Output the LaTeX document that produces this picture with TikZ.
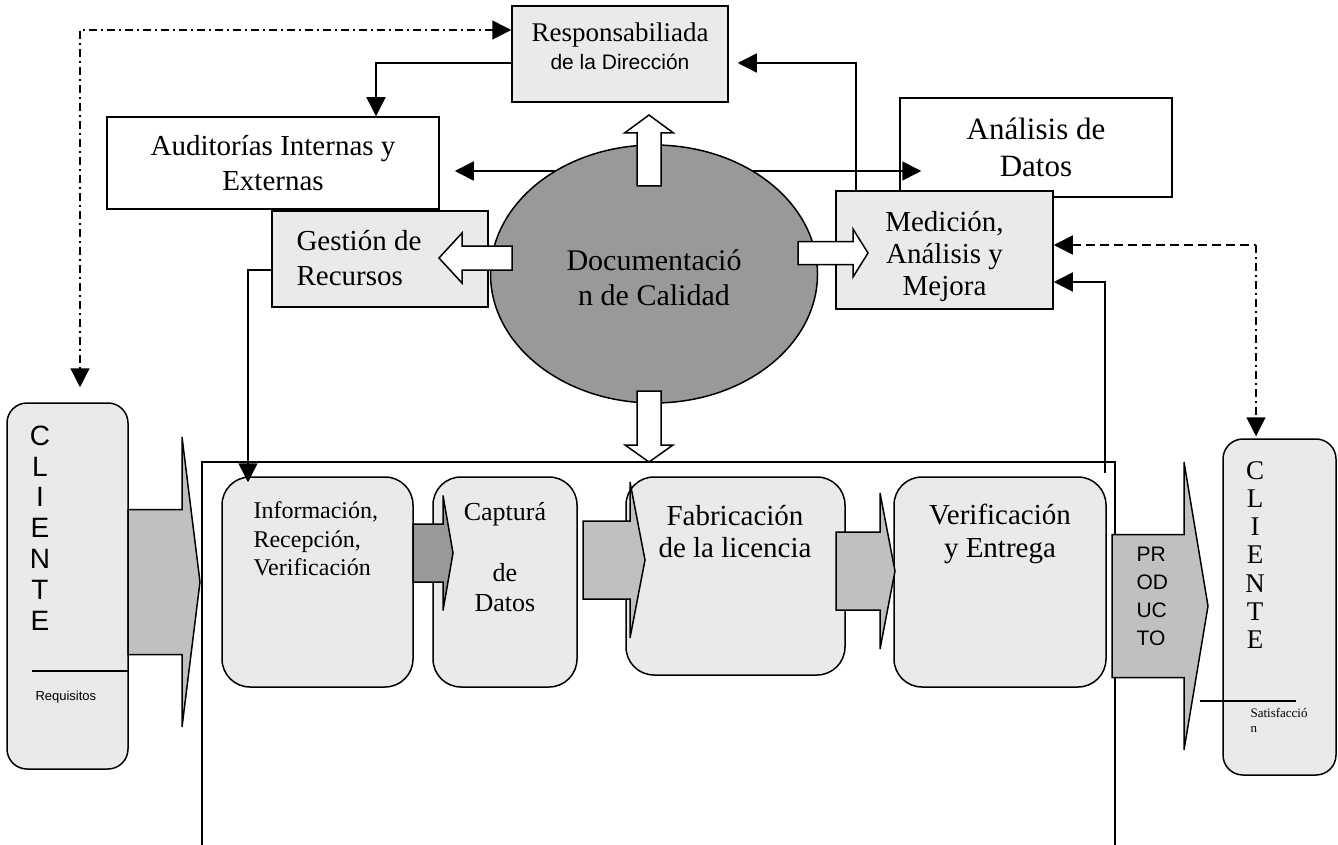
\documentclass[tikz,border=0pt]{standalone}
\usepackage{fontspec}
\setmainfont{Liberation Serif}
\newfontfamily\arialfont{Liberation Sans}
\usepackage{tikz}
\usetikzlibrary{arrows.meta,shapes.geometric}
\definecolor{boxgray}{HTML}{EAEAEA}
\definecolor{docgray}{HTML}{999999}
\definecolor{flowgray}{HTML}{C0C0C0}
\definecolor{darkflow}{HTML}{999999}
\newcommand{\fs}[2]{\fontsize{#1}{#2}\selectfont}
% block arrows: style, start, head base, tip, axis, shaft half, head half
\newcommand{\hblock}[7]{\draw[#1] (#2,#5-#6) -- (#3,#5-#6) -- (#3,#5-#7) -- (#4,#5) -- (#3,#5+#7) -- (#3,#5+#6) -- (#2,#5+#6) -- cycle;}
\newcommand{\vblock}[7]{\draw[#1] (#5-#6,#2) -- (#5-#6,#3) -- (#5-#7,#3) -- (#5,#4) -- (#5+#7,#3) -- (#5+#6,#3) -- (#5+#6,#2) -- cycle;}

\begin{document}
\begin{tikzpicture}[x=1pt, y=-1pt, >={Triangle[length=19pt,width=19pt]},
  box/.style={draw, line width=1.5pt, fill=boxgray, inner sep=0pt},
  plain/.style={draw, line width=1.5pt, fill=white, inner sep=0pt},
  rbox/.style={box, rounded corners=28pt},
  conn/.style={line width=1.5pt, ->},
  whitearrow/.style={draw, line width=1.5pt, fill=white},
  flowarrow/.style={draw, line width=1.5pt, fill=flowgray},
  darkarrow/.style={draw, line width=1.5pt, fill=darkflow},
  dashdotline/.style={line width=1.5pt, dash pattern=on 8pt off 4pt on 2pt off 4pt},
  dashline/.style={line width=1.5pt, dash pattern=on 9pt off 5pt}]
\useasboundingbox (0,0) rectangle (1338,845);
% process frame
\draw[line width=1.3pt] (202,845) -- (202,462) -- (1115,462) -- (1115,845);
% top boxes
\node[plain, minimum width=272pt, minimum height=99pt, font=\fs{31}{37}, align=center] (ana) at (1036,147.5) {Análisis de\\Datos};
\node[plain, minimum width=332pt, minimum height=92pt, font=\fs{29}{35}, align=center] (aud) at (273,163) {Auditorías Internas y\\Externas};
\node[box, minimum width=216pt, minimum height=96pt] (resp) at (620,54) {};
\node[font=\fs{27}{29}] (respA) at (620,35) {Responsabiliada};
\node[font=\arialfont\fs{21}{24}] (respB) at (620,62) {de la Dirección};
\draw[conn, <->] ([xshift=15pt,yshift=-8pt]aud.east) -- ([xshift=22pt,yshift=-23.5pt]ana.west);
\node[box, minimum width=217pt, minimum height=118pt] (med) at (944.5,250) {};
\node[font=\fs{29}{32}, align=center] (medT) at (944.5,257) {Medición,\\Análisis y\\Mejora};
\draw[conn] ([xshift=-88.5pt]med.north) |- ([xshift=9pt,yshift=-9pt]resp.east);
% documentation
\node[ellipse, draw, line width=1.5pt, fill=docgray, minimum width=327pt, minimum height=258pt, inner sep=0pt] (doc) at (654,274) {};
\node[font=\fs{30}{35}, align=center] (docT) at (654,278) {Documentació\\n de Calidad};
\node[box, minimum width=216pt, minimum height=96pt] (gest) at (380,259) {};
\node[font=\fs{29}{35}, anchor=west, align=left] (gestT) at (293,258) {Gestión de\\Recursos};
\vblock{whitearrow}{186}{133}{115}{649}{12}{24.5}
\hblock{whitearrow}{512}{462}{439}{258}{12}{25}
\hblock{whitearrow}{798}{853}{868}{253}{11.5}{24}
\vblock{whitearrow}{391}{445}{462}{649}{12}{24}
% process steps
\node[rbox, minimum width=191pt, minimum height=210pt] (info) at (317.5,582) {};
\node[rbox, minimum width=144pt, minimum height=210pt] (capt) at (505,582) {};
\node[rbox, minimum width=219pt, minimum height=198pt] (fab) at (735.5,576) {};
\node[rbox, minimum width=212pt, minimum height=210pt] (verif) at (1000,582) {};
\node[font=\fs{24}{28.5}, anchor=west, align=left] (infoT) at (250,539) {Información,\\Recepción,\\Verificación};
\node[font=\fs{26}{30.5}, align=center] (captT) at (505,557) {Capturá\\[30.5pt]de\\Datos};
\node[font=\fs{29}{32}, align=center] (fabT) at (735,532) {Fabricación\\de la licencia};
\node[font=\fs{29}{33}, align=center] (verifT) at (1000,534) {Verificación\\y Entrega};
\hblock{darkarrow}{413}{443}{453}{553}{29}{57.5}
\hblock{flowarrow}{583}{630}{645}{560}{39}{78}
\hblock{flowarrow}{836}{880}{895}{571}{39}{78}
% clients
\node[rbox, rounded corners=20pt, minimum width=121pt, minimum height=366pt] (cliL) at (67.5,586) {};
\node[font=\arialfont\fs{28}{30.8}, align=center] (cliLT) at (40,528) {C\\L\\I\\E\\N\\T\\E};
\draw[line width=1.5pt] ([yshift=-85pt]cliL.east) -- ++(-97,0);
\node[font=\arialfont\fs{13}{15}, anchor=west] (req) at (32,697) {Requisitos};
\hblock{flowarrow}{128}{182}{200}{582}{72.5}{145}
\node[rbox, rounded corners=20pt, minimum width=113pt, minimum height=336pt] (cliR) at (1279.5,607) {};
\node[font=\fs{27}{28.3}, align=center] (cliRT) at (1255,555) {C\\L\\I\\E\\N\\T\\E};
\hblock{flowarrow}{1112}{1184}{1208}{606}{71.5}{144}
\node[font=\arialfont\fs{21}{28}, anchor=west, align=left] (prod) at (1133,596) {PR\\OD\\UC\\TO};
\draw[line width=1.5pt] ([xshift=-22pt,yshift=-94pt]cliR.west) -- ++(96,0);
\node[font=\fs{13}{15}, anchor=west, align=left] (satis) at (1247,720) {Satisfacció\\n};
% connectors
\draw[conn] ([yshift=-9pt]resp.west) -| ([xshift=103pt]aud.north);
\draw[conn] ([yshift=-11pt]gest.west) -| ([xshift=-69.5pt,yshift=-6pt]info.north);
\coordinate (pout) at (1105,473);
\draw[conn] (pout) |- ([yshift=-32pt]med.east);
\draw[dashdotline, <->] ([yshift=24pt]resp.west) -| ([xshift=12.5pt,yshift=15pt]cliL.north);
\coordinate (cR) at (1256,245);
\draw[dashline, <-] ([yshift=5pt]med.east) -- (cR);
\draw[dashdotline, ->] (cR) -- ([xshift=-23.5pt,yshift=2pt]cliR.north);
\end{tikzpicture}
\end{document}
